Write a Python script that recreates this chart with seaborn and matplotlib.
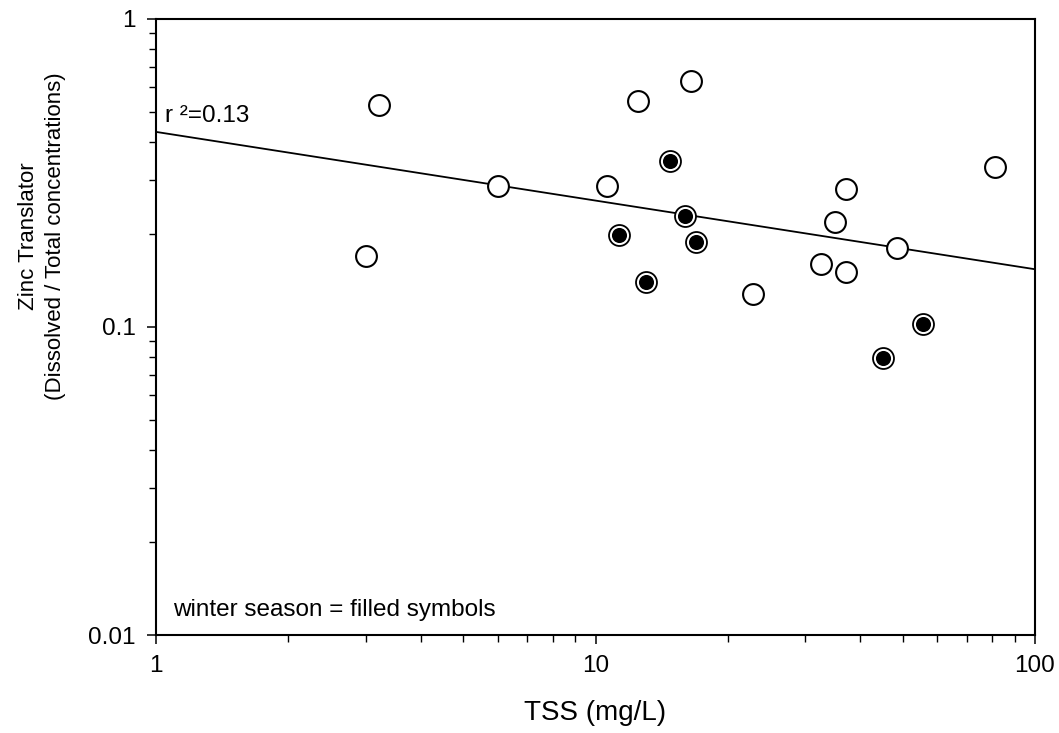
import matplotlib
matplotlib.use("Agg")
import matplotlib.pyplot as plt
import seaborn as sns
import numpy as np
import pandas as pd
from matplotlib import font_manager

# ---- data ----
open_tss = [3.22, 3.00, 6.00, 10.6, 12.5, 16.5, 22.8, 81.1, 37.2, 35.1, 48.5, 32.6, 37.2]
open_zn = [0.526, 0.170, 0.287, 0.288, 0.542, 0.629, 0.128, 0.331, 0.281, 0.219, 0.180, 0.160, 0.151]
winter_tss = [55.6, 45.1, 14.8, 16.0, 11.3, 16.9, 13.0]
winter_zn = [0.102, 0.0793, 0.346, 0.229, 0.199, 0.189, 0.140]
fit_tss = [1, 100]
fit_zn = [0.430, 0.154]
x_ticks = [1, 10, 100]
x_ticklabels = ["1", "10", "100"]
y_ticks = [0.01, 0.1, 1]
y_ticklabels = ["0.01", "0.1", "1"]

df = pd.DataFrame({
    "TSS": open_tss + winter_tss,
    "Zn": open_zn + winter_zn,
    "season": ["other"] * len(open_tss) + ["winter"] * len(winter_tss),
})
fit_df = pd.DataFrame({"TSS": fit_tss, "Zn": fit_zn})

sns.set_theme(style="white")
names = {f.name for f in font_manager.fontManager.ttflist}
base = "Liberation Sans" if "Liberation Sans" in names else "DejaVu Sans"
plt.rcParams["font.family"] = [base, "DejaVu Sans"]

fig = plt.figure(figsize=(10.59, 7.33), dpi=100)
ax = fig.add_axes([156 / 1059, 1 - 635 / 733, 879 / 1059, 616 / 733])

sns.lineplot(data=fit_df, x="TSS", y="Zn", ax=ax, color="black", linewidth=1.3, zorder=2)

sns.scatterplot(data=df[df.season == "other"], x="TSS", y="Zn", ax=ax, s=225,
                facecolor="white", edgecolor="black", linewidth=1.5, zorder=3)
sns.scatterplot(data=df[df.season == "winter"], x="TSS", y="Zn", ax=ax, s=228,
                facecolor="white", edgecolor="black", linewidth=1.3, zorder=3)
sns.scatterplot(data=df[df.season == "winter"], x="TSS", y="Zn", ax=ax, s=118,
                facecolor="black", edgecolor="black", linewidth=0, zorder=4)

ax.set_xscale("log")
ax.set_yscale("log")
ax.set_xlim(1, 100)
ax.set_ylim(0.01, 1)
ax.set_xticks(x_ticks)
ax.set_xticklabels(x_ticklabels)
ax.set_yticks(y_ticks)
ax.set_yticklabels(y_ticklabels)
ax.minorticks_on()
ax.yaxis.set_minor_formatter(matplotlib.ticker.NullFormatter())
ax.xaxis.set_minor_formatter(matplotlib.ticker.NullFormatter())

ax.tick_params(axis="both", which="major", direction="out", length=6.5, width=1.1,
               labelsize=17.5, pad=8, color="black", labelcolor="black",
               bottom=True, left=True, top=False, right=False)
ax.tick_params(axis="both", which="minor", direction="out", length=5, width=1.0,
               color="black", bottom=True, left=True, top=False, right=False)

for sp in ax.spines.values():
    sp.set_color("black")
    sp.set_linewidth(1.5)
ax.grid(False)

ax.set_xlabel("TSS (mg/L)", fontsize=20, color="black", va="center")
ax.xaxis.set_label_coords(0.5, -0.1266)
ax.set_ylabel("Zinc Translator\n(Dissolved / Total concentrations)", fontsize=16,
              color="black", va="center", ha="center",
              multialignment="center", linespacing=1.35)
ax.yaxis.set_label_coords(-0.1297, 0.6477)

ax.text(0.0102, 0.8328, "r \u00b2=0.13", transform=ax.transAxes, fontsize=17.5,
        va="baseline", ha="left", color="black")
ax.text(0.0193, 0.0308, "winter season = filled symbols", transform=ax.transAxes,
        fontsize=17.5, va="baseline", ha="left", color="black")

fig.savefig("out.png", dpi=100)
